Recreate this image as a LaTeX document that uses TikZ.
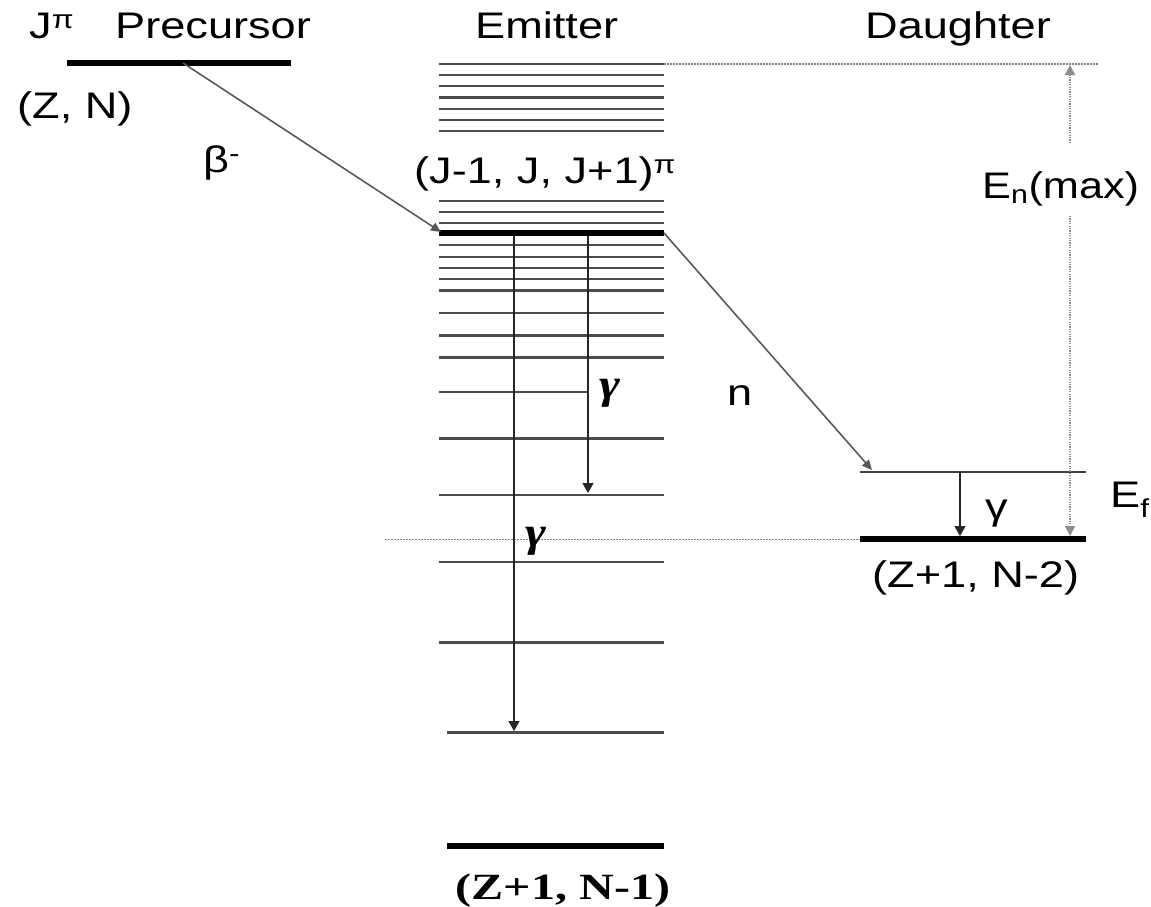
\documentclass[tikz,border=0pt]{standalone}
\usepackage{graphicx}
\usepackage{fontspec}
\setmainfont{Liberation Sans}
\newfontfamily\serifface{Liberation Serif}
\usetikzlibrary{arrows.meta}
\newcommand\sx[1]{\scalebox{1.22}[1]{#1}}
\newcommand\sxs[1]{\scalebox{1.3}[1]{#1}}
\begin{document}
\begin{tikzpicture}[x=1pt,y=-1pt,
  lvl/.style={line width=2.4pt, draw=black!70},
  thinlvl/.style={line width=1.6pt, draw=black!75},
  thicklvl/.style={line width=6pt, draw=black},
  trans/.style={line width=1.6pt, draw=black!65, -{Triangle[length=10pt,width=9pt]}},
  gam/.style={line width=1.6pt, draw=black!85, -{Triangle[length=10pt,width=11pt]}},
  dotln/.style={line width=1.3pt, draw=black!50, dash pattern=on 1.5pt off 1.5pt},
  enarr/.style={line width=1.5pt, draw=black!45, dash pattern=on 1.2pt off 1.2pt, -{Triangle[length=10pt,width=10pt]}},
  lbl/.style={inner sep=0pt, font=\fontsize{37}{40}\selectfont, anchor=base west},
  sgam/.style={inner sep=0pt, anchor=base west, font=\serifface\bfseries\itshape\fontsize{42}{44}\selectfont},
]
\useasboundingbox (0,0) rectangle (1151,906);

% ---------- headings ----------
\node[lbl] (jpi) at (29,38) {\sx{J\textsuperscript{π}}};
\node[lbl] (prec) at (115,38) {\sx{Precursor}};
\node[lbl] (emith) at (475,38) {\sx{Emitter}};
\node[lbl] (daugh) at (865,38) {\sx{Daughter}};

% ---------- precursor ----------
\draw[thicklvl] (67,63) -- (291,63);
\node[lbl] (zn) at (17,118) {\sx{(Z, N)}};
\node[lbl] (beta) at (203,172) {\sx{β\textsuperscript{-}}};

% ---------- emitter levels ----------
\foreach \y in {64,75,86,97.3,108.7,120,130.7,200.7,212,222.7,245,256.7,267.7,279,290.3,312.7,335.3,357.3,438.3,494.7,562,642.3}
  \draw[lvl] (439,\y) -- (664,\y);
\draw[lvl] (439,391.7) -- (588,391.7);
\draw[lvl] (447,732.3) -- (664,732.3);
\draw[thicklvl] (439,233) -- (664,233);
\draw[thicklvl] (447,846) -- (664,846);
\node[lbl] (jset) at (414,183) {\sx{(J-1, J, J+1)\textsuperscript{π}}};
\node[inner sep=0pt, anchor=base] (zn1) at (563,899)
  {\serifface\bfseries\fontsize{37}{40}\selectfont\sxs{(Z+1, N-1)}};

% ---------- dotted guide lines ----------
\draw[dotln] (664,64) -- (1098,64);
\draw[dotln] (385,539.3) -- (860,539.3);

% ---------- daughter levels ----------
\draw[thinlvl] (860,471.7) -- (1086,471.7);
\draw[thicklvl] (860,539.3) -- (1086,539.3);
\node[lbl] (zn2) at (872,587) {\sx{(Z+1, N-2)}};
\node[lbl] (ef) at (1110,507) {\sx{E\textsubscript{f}}};
\node[lbl] (enmax) at (982,198) {\scalebox{1.17}[1]{E\textsubscript{n}(max)}};

% ---------- named end points ----------
\coordinate (pre) at (183,63);
\coordinate (emit) at (441,232);
\coordinate (eR) at (664,233);
\coordinate (dEf) at (872,470);
\coordinate (g1s) at (514,236);
\coordinate (g1e) at (514,731);
\coordinate (g2s) at (588,236);
\coordinate (g2e) at (588,493);
\coordinate (g3s) at (960,472);
\coordinate (g3e) at (960,536);
\coordinate (enTop) at (1070,65);
\coordinate (enUp) at (1070,143);
\coordinate (enLo) at (1070,216);
\coordinate (enBot) at (1070,536);

% ---------- transitions ----------
\draw[trans] (pre) -- (emit);
\draw[trans] (eR) -- (dEf);
\draw[gam] (g1s) -- (g1e);
\draw[gam] (g2s) -- (g2e);
\draw[gam] (g3s) -- (g3e);
\draw[enarr] (enUp) -- (enTop);
\draw[enarr] (enLo) -- (enBot);

% ---------- transition labels ----------
\node[lbl] (nlab) at (727,405) {\sx{n}};
\node[sgam] (gam1) at (599,398) {\scalebox{1.2}[1]{γ}};
\node[sgam] (gam2) at (525,546) {\scalebox{1.2}[1]{γ}};
\node[lbl] (gam3) at (985,519) {\sx{γ}};
\end{tikzpicture}
\end{document}
